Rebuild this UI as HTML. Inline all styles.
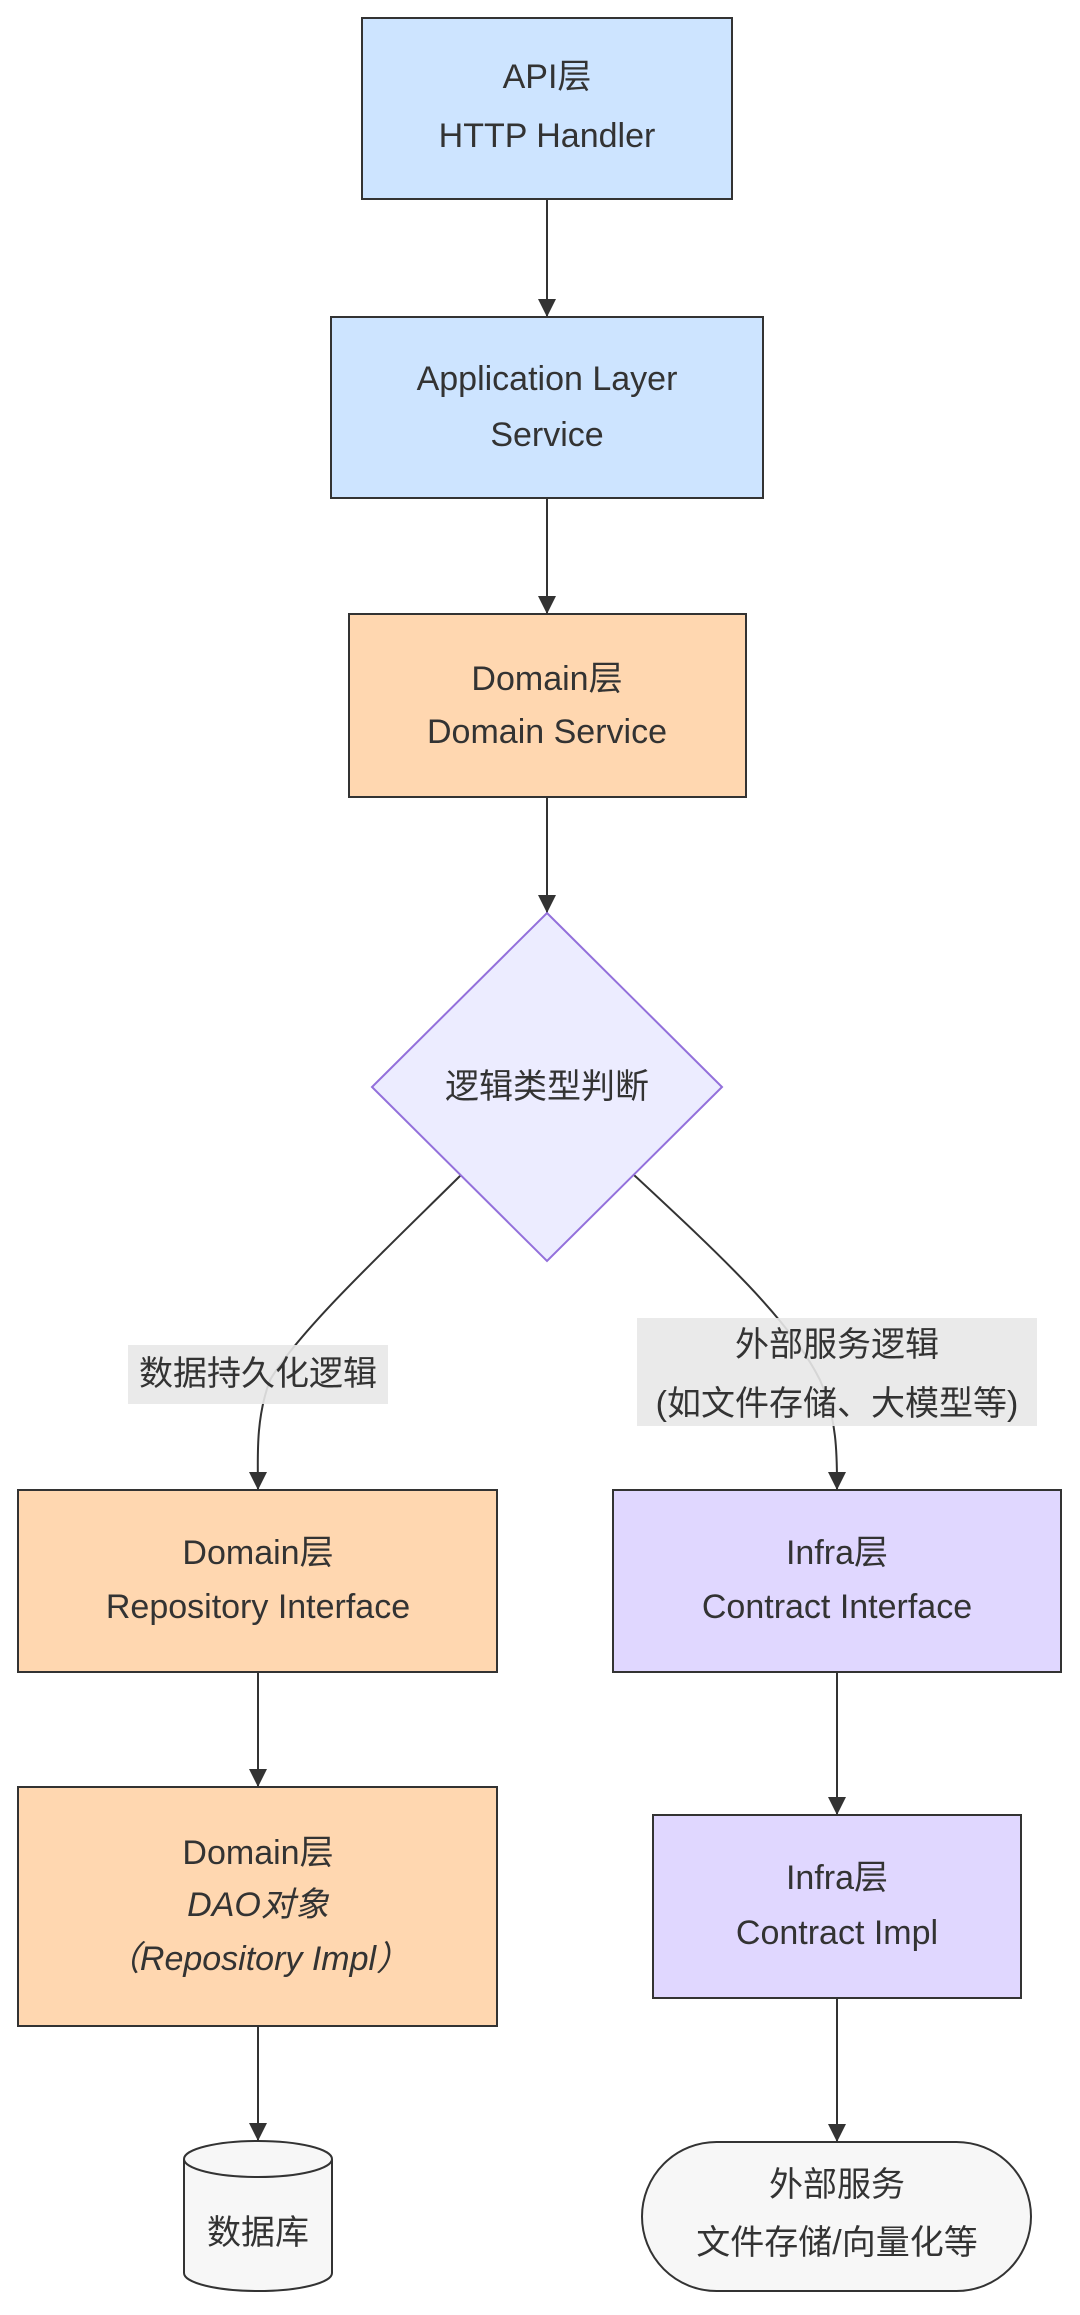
<!DOCTYPE html>
<html><head><meta charset="utf-8"><style>
html,body{margin:0;padding:0;background:#fff;}
svg text{font-family:"Liberation Sans","Noto Sans CJK SC",sans-serif;font-size:34px;fill:#333;text-anchor:middle;}
</style></head><body>
<svg width="1080" height="2310" viewBox="0 0 1080 2310" xmlns="http://www.w3.org/2000/svg">
<defs>
<marker id="b" viewBox="0 0 10 10" refX="10" refY="5" markerWidth="18" markerHeight="18" markerUnits="userSpaceOnUse" orient="auto"><path d="M0,0L10,5L0,10z" fill="#333"/></marker></defs>
<g stroke="#333" stroke-width="2" fill="none">
<path d="M547,199V317" marker-end="url(#b)"/>
<path d="M547,498V614" marker-end="url(#b)"/>
<path d="M547,797V913" marker-end="url(#b)"/>
<path d="M461,1175C380,1255 300,1330 270,1380C255,1420 258,1460 258,1490" marker-end="url(#b)"/>
<path d="M634,1175C720,1255 790,1320 820,1380C838,1420 837,1460 837,1490" marker-end="url(#b)"/>
<path d="M258,1672V1787" marker-end="url(#b)"/>
<path d="M258,2026V2141" marker-end="url(#b)"/>
<path d="M837,1672V1815" marker-end="url(#b)"/>
<path d="M837,1998V2142" marker-end="url(#b)"/>
</g>
<rect x="362" y="18" width="370" height="181" fill="#cde4ff" stroke="#333" stroke-width="2"/>
<text x="547" y="88">API层</text><text x="547" y="147">HTTP Handler</text>
<rect x="331" y="317" width="432" height="181" fill="#cde4ff" stroke="#333" stroke-width="2"/>
<text x="547" y="390">Application Layer</text><text x="547" y="446">Service</text>
<rect x="349" y="614" width="397" height="183" fill="#ffd7b0" stroke="#333" stroke-width="2"/>
<text x="547" y="690">Domain层</text><text x="547" y="743">Domain Service</text>
<path d="M547,913L722,1087L547,1261L372,1087z" fill="#ececff" stroke="#9370db" stroke-width="2"/>
<text x="547" y="1098">逻辑类型判断</text>
<rect x="128" y="1345" width="260" height="59" fill="#e8e8e8" opacity="0.9"/>
<text x="258" y="1385">数据持久化逻辑</text>
<rect x="637" y="1318" width="400" height="108" fill="#e8e8e8" opacity="0.9"/>
<text x="837" y="1356">外部服务逻辑</text><text x="837" y="1415">(如文件存储、大模型等)</text>
<rect x="18" y="1490" width="479" height="182" fill="#ffd7b0" stroke="#333" stroke-width="2"/>
<text x="258" y="1564">Domain层</text><text x="258" y="1618">Repository Interface</text>
<rect x="18" y="1787" width="479" height="239" fill="#ffd7b0" stroke="#333" stroke-width="2"/>
<text x="258" y="1864">Domain层</text><text x="258" y="1916" font-style="italic">DAO对象</text><text x="258" y="1970" font-style="italic">（Repository Impl）</text>
<rect x="613" y="1490" width="448" height="182" fill="#e0d7ff" stroke="#333" stroke-width="2"/>
<text x="837" y="1564">Infra层</text><text x="837" y="1618">Contract Interface</text>
<rect x="653" y="1815" width="368" height="183" fill="#e0d7ff" stroke="#333" stroke-width="2"/>
<text x="837" y="1889">Infra层</text><text x="837" y="1944">Contract Impl</text>
<path d="M184,2159a74,18 0 0 1 148,0v114a74,18 0 0 1 -148,0z" fill="#f7f7f7" stroke="#333" stroke-width="2"/>
<path d="M184,2159a74,18 0 0 0 148,0" fill="none" stroke="#333" stroke-width="2"/>
<text x="258" y="2244">数据库</text>
<rect x="642" y="2142" width="389" height="149" rx="74.5" fill="#f7f7f7" stroke="#333" stroke-width="2"/>
<text x="837" y="2196">外部服务</text><text x="837" y="2254">文件存储/向量化等</text>
</svg>
</body></html>
